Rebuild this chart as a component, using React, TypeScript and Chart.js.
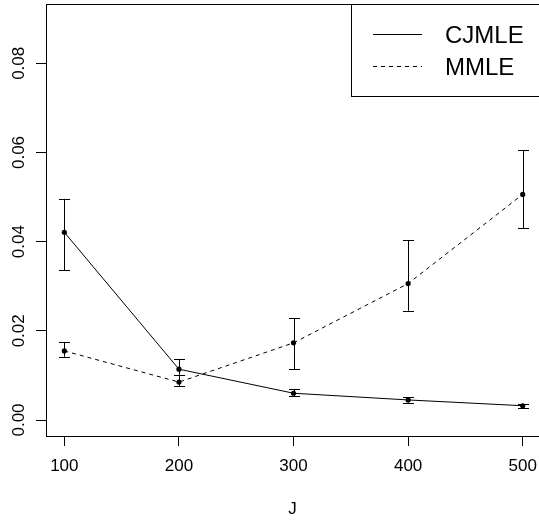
import React, { useEffect, useRef } from "react";
import { Chart, registerables } from "chart.js";

Chart.register(...registerables);

const J = [100, 200, 300, 400, 500];
const xTicks = [100, 200, 300, 400, 500];
const yTicks = [0, 0.02, 0.04, 0.06, 0.08];
const yTickLabels = ["0.00", "0.02", "0.04", "0.06", "0.08"];

const cjmleMean = [0.0421, 0.0114, 0.006, 0.0045, 0.0032];
const cjmleLower = [0.0336, 0.0102, 0.0054, 0.0039, 0.0028];
const cjmleUpper = [0.0496, 0.0137, 0.0069, 0.0051, 0.0036];

const mmleMean = [0.0155, 0.0085, 0.0173, 0.0306, 0.0506];
const mmleLower = [0.0142, 0.0076, 0.0114, 0.0245, 0.043];
const mmleUpper = [0.0175, 0.0102, 0.0228, 0.0403, 0.0606];

const FONT = "'Liberation Sans', Arial, Helvetica, sans-serif";

export default function App() {
  const ref = useRef<HTMLCanvasElement | null>(null);

  useEffect(() => {
    const canvas = ref.current;
    if (!canvas) return;

    const errorBars = {
      id: "errorBars",
      afterDatasetsDraw(chart: any) {
        const ctx = chart.ctx;
        const xs = chart.scales.x;
        const ys = chart.scales.y;
        const sets = [
          [cjmleLower, cjmleUpper],
          [mmleLower, mmleUpper],
        ];
        ctx.save();
        ctx.strokeStyle = "#000";
        ctx.lineWidth = 1;
        ctx.setLineDash([]);
        sets.forEach(([lo, hi]) => {
          J.forEach((j, i) => {
            const x = Math.round(xs.getPixelForValue(j)) + 0.5;
            const y1 = ys.getPixelForValue(lo[i]);
            const y2 = ys.getPixelForValue(hi[i]);
            ctx.beginPath();
            ctx.moveTo(x, y1);
            ctx.lineTo(x, y2);
            ctx.moveTo(x - 5.5, Math.round(y1) + 0.5);
            ctx.lineTo(x + 5.5, Math.round(y1) + 0.5);
            ctx.moveTo(x - 5.5, Math.round(y2) + 0.5);
            ctx.lineTo(x + 5.5, Math.round(y2) + 0.5);
            ctx.stroke();
          });
        });
        ctx.restore();
      },
    };

    const frame = {
      id: "frame",
      afterDraw(chart: any) {
        const ctx = chart.ctx;
        const a = chart.chartArea;
        const ys = chart.scales.y;
        ctx.save();
        ctx.strokeStyle = "#000";
        ctx.lineWidth = 1;
        ctx.setLineDash([]);
        ctx.strokeRect(a.left + 0.5, a.top + 0.5, a.right - a.left + 4, a.bottom - a.top);
        // rotated y tick labels
        ctx.fillStyle = "#000";
        ctx.font = `17px ${FONT}`;
        ctx.textAlign = "center";
        ctx.textBaseline = "alphabetic";
        yTicks.forEach((v, i) => {
          const y = ys.getPixelForValue(v);
          ctx.save();
          ctx.translate(23.5, y);
          ctx.rotate(-Math.PI / 2);
          ctx.fillText(yTickLabels[i], 0, 0);
          ctx.restore();
        });
        // legend
        const lx = 351.5;
        const ly = 4.5;
        ctx.fillStyle = "#fff";
        ctx.fillRect(lx, ly, 200, 92);
        ctx.strokeRect(lx, ly, 200, 92);
        ctx.font = `24px ${FONT}`;
        ctx.textAlign = "left";
        ctx.textBaseline = "middle";
        ctx.fillStyle = "#000";
        const rows = [
          { label: chart.data.datasets[0].label, dash: [] as number[], y: 34.5 },
          { label: chart.data.datasets[1].label, dash: [4, 4], y: 66.5 },
        ];
        rows.forEach((r) => {
          ctx.beginPath();
          ctx.setLineDash(r.dash);
          ctx.moveTo(373, r.y);
          ctx.lineTo(422, r.y);
          ctx.stroke();
          ctx.setLineDash([]);
          ctx.fillText(r.label, 445, r.y + 2);
        });
        ctx.restore();
      },
    };

    const chart = new Chart(canvas, {
      type: "line",
      data: {
        datasets: [
          {
            label: "CJMLE",
            data: J.map((j, i) => ({ x: j, y: cjmleMean[i] })),
            borderColor: "#000",
            backgroundColor: "#000",
            borderWidth: 1,
            pointRadius: 2.6,
            pointBorderWidth: 0,
            tension: 0,
          },
          {
            label: "MMLE",
            data: J.map((j, i) => ({ x: j, y: mmleMean[i] })),
            borderColor: "#000",
            backgroundColor: "#000",
            borderWidth: 1,
            borderDash: [4, 4],
            pointRadius: 2.6,
            pointBorderWidth: 0,
            tension: 0,
          },
        ],
      },
      options: {
        responsive: false,
        animation: false,
        devicePixelRatio: 1,
        layout: { autoPadding: false, padding: { top: 4, left: 0, right: 0, bottom: 0 } },
        plugins: {
          legend: { display: false },
          tooltip: { enabled: false },
        },
        scales: {
          x: {
            type: "linear",
            min: 84,
            max: 514.2,
            afterFit: (s: any) => {
              s.height = 87;
              s.paddingLeft = 0;
              s.paddingRight = 0;
            },
            afterBuildTicks: (s: any) => {
              s.ticks = xTicks.map((v) => ({ value: v }));
            },
            grid: {
              drawOnChartArea: false,
              drawTicks: true,
              tickLength: 10,
              color: "#000",
            },
            border: { display: false },
            ticks: {
              color: "#000",
              font: { family: FONT, size: 17 },
              padding: 10,
              maxRotation: 0,
              autoSkip: false,
              callback: (v: any) => String(v),
            },
            title: {
              display: true,
              text: "J",
              color: "#000",
              font: { family: FONT, size: 17 },
              padding: { top: 0, bottom: 3 },
            },
          },
          y: {
            type: "linear",
            min: -0.003588,
            max: 0.0933,
            afterFit: (s: any) => {
              s.width = 46;
              s.paddingTop = 0;
              s.paddingBottom = 0;
            },
            afterBuildTicks: (s: any) => {
              s.ticks = yTicks.map((v) => ({ value: v }));
            },
            grid: {
              drawOnChartArea: false,
              drawTicks: true,
              tickLength: 10,
              color: "#000",
            },
            border: { display: false },
            ticks: { display: false },
          },
        },
      },
      plugins: [errorBars, frame],
    });

    return () => {
      chart.destroy();
    };
  }, []);

  return (
    <div style={{ position: "fixed", left: 0, top: 0, width: 539, height: 523, background: "#fff" }}>
      <canvas ref={ref} width={539} height={523} style={{ display: "block" }} />
    </div>
  );
}
